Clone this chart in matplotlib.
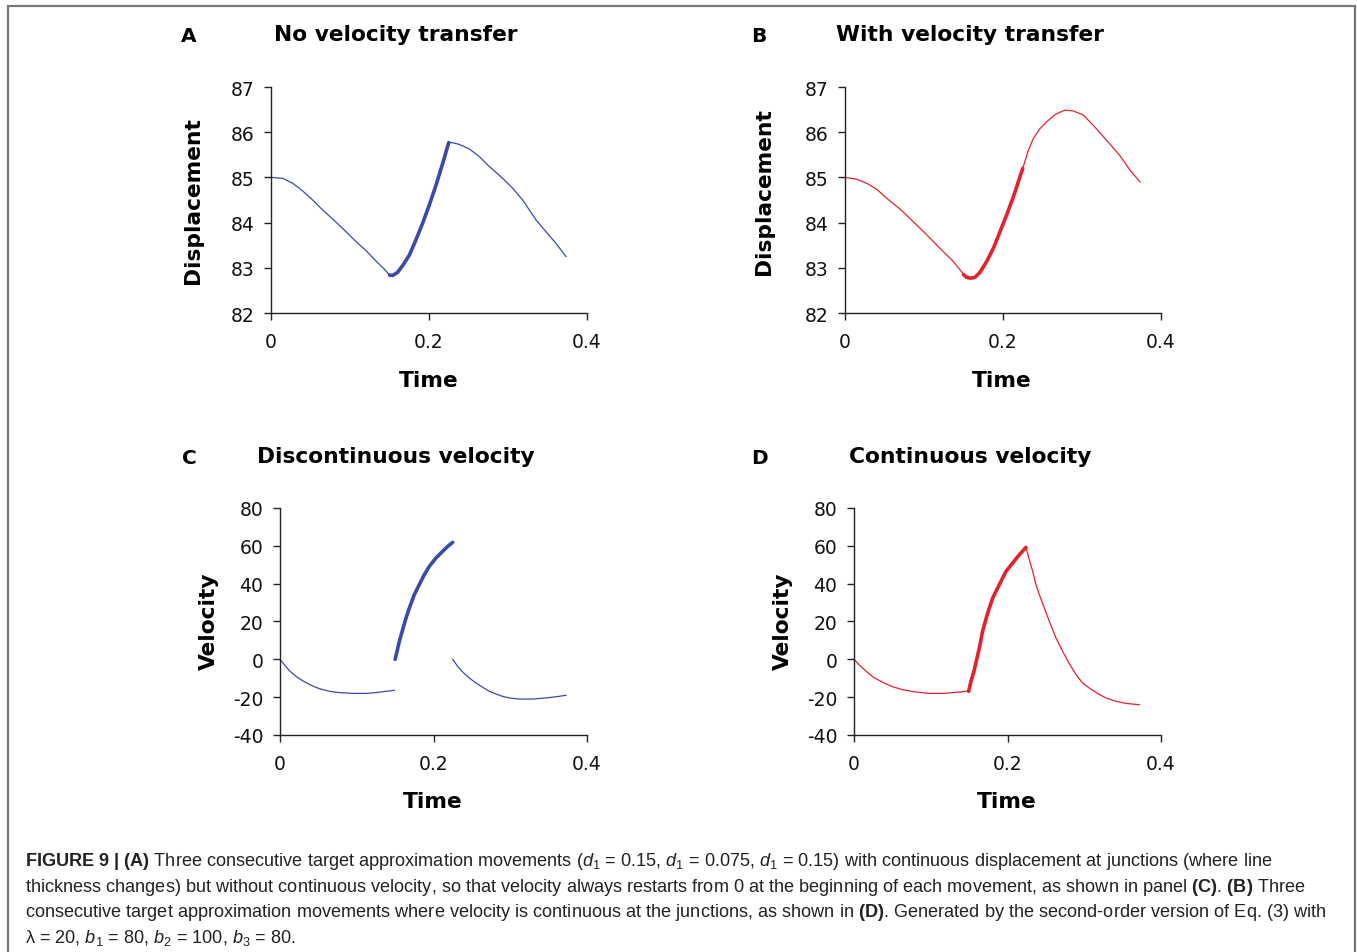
import matplotlib
matplotlib.use("Agg")
import matplotlib.pyplot as plt
from matplotlib.patches import Rectangle

W, H = 1357, 953

# ---- data ----
# panel A: displacement, no velocity transfer (three movements)
a_t1 = [0.0, 0.0148, 0.0274, 0.0401, 0.0527, 0.0654, 0.0823, 0.0949, 0.1076,
        0.1203, 0.1329, 0.1435, 0.150]
a_y1 = [85.0, 84.98, 84.87, 84.70, 84.50, 84.28, 84.01, 83.80, 83.58,
        83.38, 83.15, 82.97, 82.84]
a_t2 = [0.150, 0.154, 0.1603, 0.1667, 0.1751, 0.1835, 0.192, 0.2004, 0.2089,
        0.2173, 0.225]
a_y2 = [82.84, 82.83, 82.90, 83.05, 83.28, 83.62, 83.99, 84.39, 84.83,
        85.31, 85.77]
a_t3 = [0.225, 0.2291, 0.2384, 0.2511, 0.2637, 0.2764, 0.2932, 0.3059, 0.3186,
        0.3354, 0.3481, 0.3608, 0.3734]
a_y3 = [85.77, 85.77, 85.73, 85.63, 85.46, 85.24, 84.98, 84.76, 84.50,
        84.06, 83.80, 83.54, 83.25]

# panel B: displacement, with velocity transfer
b_t1 = [0.0, 0.0148, 0.0274, 0.0401, 0.0527, 0.0696, 0.0865, 0.1034, 0.1203,
        0.1371, 0.150]
b_y1 = [85.0, 84.96, 84.87, 84.74, 84.54, 84.30, 84.02, 83.73, 83.43,
        83.14, 82.86]
b_t2 = [0.150, 0.154, 0.1591, 0.1646, 0.1709, 0.1793, 0.1878, 0.1962, 0.2046,
        0.2131, 0.225]
b_y2 = [82.85, 82.79, 82.77, 82.79, 82.90, 83.14, 83.43, 83.80, 84.17,
        84.57, 85.20]
b_t3 = [0.225, 0.2321, 0.2384, 0.2468, 0.2553, 0.2658, 0.2785, 0.289, 0.3017,
        0.3143, 0.3312, 0.3481, 0.3608, 0.3734]
b_y3 = [85.20, 85.60, 85.86, 86.08, 86.23, 86.39, 86.49, 86.47, 86.38,
        86.15, 85.82, 85.48, 85.16, 84.90]

# panel C: velocity, discontinuous
c_t1 = [0.0, 0.0056, 0.0122, 0.0208, 0.0295, 0.0404, 0.0512, 0.0643, 0.0773,
        0.0947, 0.1121, 0.1251, 0.1381, 0.149]
c_v1 = [0.0, -2.8, -6.0, -9.0, -11.3, -13.7, -15.5, -16.9, -17.6,
        -18.0, -18.0, -17.6, -16.9, -16.4]
c_t2 = [0.150, 0.1525, 0.1555, 0.1598, 0.1642, 0.1685, 0.175, 0.1815, 0.1881,
        0.1946, 0.2033, 0.2119, 0.2185, 0.225]
c_v2 = [0.0, 4.2, 9.5, 15.7, 21.85, 27.1, 34.2, 39.5, 44.8,
        49.2, 53.6, 57.1, 59.7, 61.85]
c_t3 = [0.225, 0.2315, 0.238, 0.2467, 0.2554, 0.2641, 0.2727, 0.2814, 0.2901,
        0.2988, 0.3118, 0.3292, 0.3466, 0.3596, 0.3726]
c_v3 = [0.0, -3.7, -6.7, -9.9, -12.5, -14.8, -16.9, -18.3, -19.6,
        -20.4, -21.0, -21.0, -20.4, -19.8, -19.0]

# panel D: velocity, continuous
d_t1 = [0.0, 0.0069, 0.0156, 0.0243, 0.0374, 0.0504, 0.063, 0.0808, 0.0982,
        0.1155, 0.1286, 0.1416, 0.1494]
d_v1 = [0.0, -3.0, -6.2, -9.2, -12.2, -14.5, -16.0, -17.3, -18.0,
        -18.0, -17.6, -17.1, -16.7]
d_t2 = [0.1494, 0.1524, 0.1568, 0.1633, 0.1676, 0.1742, 0.1807, 0.1894, 0.198,
        0.2067, 0.2154, 0.2241]
d_v2 = [-16.9, -11.6, -5.5, 6.0, 15.0, 24.5, 32.4, 39.5, 46.5,
        50.9, 55.3, 59.2]
d_t3 = [0.2241, 0.2284, 0.2328, 0.2371, 0.2415, 0.248, 0.2545, 0.2632, 0.2719,
        0.2806, 0.2893, 0.2979, 0.3066, 0.3175, 0.3283, 0.3414, 0.3544, 0.3718]
d_v3 = [59.2, 52.7, 46.5, 39.5, 34.2, 27.1, 20.1, 11.3, 4.2,
        -2.3, -8.1, -12.5, -15.2, -18.1, -20.4, -22.2, -23.3, -24.0]

disp_ticks = [82, 83, 84, 85, 86, 87]
vel_ticks = [-40, -20, 0, 20, 40, 60, 80]
time_ticks = [0, 0.2, 0.4]
time_labels = ["0", "0.2", "0.4"]

titles = ["No velocity transfer", "With velocity transfer",
          "Discontinuous velocity", "Continuous velocity"]
letters = ["A", "B", "C", "D"]

BLUE = "#3a4aa8"
RED = "#e3222b"

cap_font = "Liberation Sans"
plt.rcParams["axes.unicode_minus"] = False
plt.rcParams["mathtext.fontset"] = "custom"
plt.rcParams["mathtext.rm"] = cap_font
plt.rcParams["mathtext.it"] = cap_font + ":italic"
plt.rcParams["mathtext.bf"] = cap_font + ":bold"

fig = plt.figure(figsize=(W / 100, H / 100), dpi=100)

def px_axes(x0, y0, x1, y1):
    return fig.add_axes([x0 / W, 1 - y1 / H, (x1 - x0) / W, (y1 - y0) / H])

axA = px_axes(271, 88, 587, 314)
axB = px_axes(845, 88, 1161, 314)
axC = px_axes(280, 509, 587, 736)
axD = px_axes(854, 509, 1161, 736)

thin, thick = 0.9, 2.6
axA.plot(a_t1, a_y1, color=BLUE, lw=thin)
axA.plot(a_t2, a_y2, color=BLUE, lw=thick, solid_capstyle="round")
axA.plot(a_t3, a_y3, color=BLUE, lw=thin)
axB.plot(b_t1, b_y1, color=RED, lw=thin)
axB.plot(b_t2, b_y2, color=RED, lw=thick, solid_capstyle="round")
axB.plot(b_t3, b_y3, color=RED, lw=thin)
axC.plot(c_t1, c_v1, color=BLUE, lw=thin)
axC.plot(c_t2, c_v2, color=BLUE, lw=thick, solid_capstyle="round")
axC.plot(c_t3, c_v3, color=BLUE, lw=thin)
axD.plot(d_t1, d_v1, color=RED, lw=thin)
axD.plot(d_t2, d_v2, color=RED, lw=thick, solid_capstyle="round")
axD.plot(d_t3, d_v3, color=RED, lw=thin)

for ax in (axA, axB, axC, axD):
    for s in ("top", "right"):
        ax.spines[s].set_visible(False)
    for s in ("left", "bottom"):
        ax.spines[s].set_color("#222222")
        ax.spines[s].set_linewidth(1.0)
    ax.set_xlim(0, 0.4)
    ax.set_xticks(time_ticks)
    ax.set_xticklabels(time_labels)
    ax.tick_params(axis="both", direction="out", length=5, width=1,
                   color="#222222", labelsize=13.5, labelcolor="#111111")
    ax.tick_params(axis="x", pad=9)
    ax.tick_params(axis="y", pad=7)
    ax.set_xlabel("Time", fontsize=15.7, fontweight="bold")

for ax in (axA, axB):
    ax.set_ylim(82, 87)
    ax.set_yticks(disp_ticks)
    ax.set_ylabel("Displacement", fontsize=15.7, fontweight="bold")
for ax in (axC, axD):
    ax.set_ylim(-40, 80)
    ax.set_yticks(vel_ticks)
    ax.set_ylabel("Velocity", fontsize=15.7, fontweight="bold")

axA.yaxis.set_label_coords(-0.216, 0.50)
axB.yaxis.set_label_coords(-0.225, 0.54)
axC.yaxis.set_label_coords(-0.199, 0.504)
axD.yaxis.set_label_coords(-0.199, 0.504)
axA.xaxis.set_label_coords(0.50, -0.253)
axB.xaxis.set_label_coords(0.497, -0.253)
axC.xaxis.set_label_coords(0.498, -0.247)
axD.xaxis.set_label_coords(0.498, -0.247)

title_pos = [(396, 35), (970, 35), (396, 457), (970, 457)]
letter_pos = [(189, 37), (759, 37), (189, 458), (759, 458)]
for (tx, ty), t in zip(title_pos, titles):
    fig.text(tx / W, 1 - ty / H, t, ha="center", va="center",
             fontsize=15.7, fontweight="bold")
for (lx, ly), l in zip(letter_pos, letters):
    fig.text(lx / W, 1 - ly / H, l, ha="center", va="center",
             fontsize=14.5, fontweight="bold")

# frame around the figure
fig.add_artist(Rectangle((8 / W, -0.05), (1355 - 8) / W, 1 - 7 / H + 0.05,
                         transform=fig.transFigure, fill=False,
                         edgecolor="#777777", lw=1.6))

caption = [
    r"$\mathbf{FIGURE\ 9\ |\ (A)}$ Three consecutive target approximation movements "
    r"($\mathit{d}_1$ = 0.15, $\mathit{d}_1$ = 0.075, $\mathit{d}_1$ = 0.15) with continuous "
    r"displacement at junctions (where line",
    r"thickness changes) but without continuous velocity, so that velocity always restarts "
    r"from 0 at the beginning of each movement, as shown in panel $\mathbf{(C)}$. "
    r"$\mathbf{(B)}$ Three",
    r"consecutive target approximation movements where velocity is continuous at the "
    r"junctions, as shown in $\mathbf{(D)}$. Generated by the second-order version of "
    r"Eq. (3) with",
    r"λ = 20, $\mathit{b}_1$ = 80, $\mathit{b}_2$ = 100, $\mathit{b}_3$ = 80.",
]
cap_y = [862, 887, 913, 938]
for line, cy in zip(caption, cap_y):
    fig.text(25 / W, 1 - cy / H, line, ha="left", va="center",
             fontsize=13.1, family=cap_font, color="#222222")

fig.savefig("out.png", dpi=100)
